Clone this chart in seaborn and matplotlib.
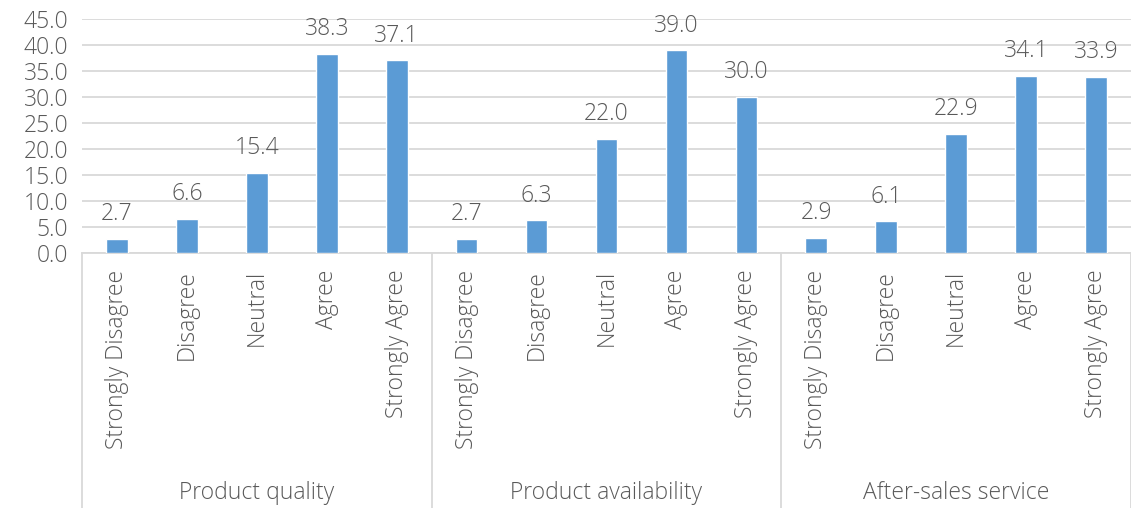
import matplotlib
matplotlib.use("Agg")
import matplotlib.pyplot as plt
import seaborn as sns
import pandas as pd

groups = ["Product quality", "Product availability", "After-sales service"]
responses = ["Strongly Disagree", "Disagree", "Neutral", "Agree", "Strongly Agree"]
quality = [2.7, 6.6, 15.4, 38.3, 37.1]
availability = [2.7, 6.3, 22.0, 39.0, 30.0]
after_sales = [2.9, 6.1, 22.9, 34.1, 33.9]
y_ticks = [0, 5, 10, 15, 20, 25, 30, 35, 40, 45]

rows = []
for g, vals in zip(groups, [quality, availability, after_sales]):
    for r, v in zip(responses, vals):
        rows.append({"group": g, "response": r, "key": f"{g}|{r}", "value": v})
df = pd.DataFrame(rows)

sns.set_theme(style="white")
plt.rcParams["font.family"] = ["Open Sans", "DejaVu Sans"]
text_color = "#595959"
grid_color = "#D9D9D9"
bar_color = "#5B9BD5"
fs = 16.5
fw = "light"

fig = plt.figure(figsize=(11.31, 5.08), dpi=100)
ax = fig.add_axes([82 / 1131, 1 - 253 / 508, 1 - 82 / 1131, (253 - 19) / 508])

sns.barplot(data=df, x="key", y="value", order=list(df["key"]), color=bar_color,
            width=0.31, saturation=1, ax=ax, zorder=3)

ax.set_xlim(-0.5, len(df) - 0.5)
ax.set_ylim(0, 45)
ax.set_yticks(y_ticks)
ax.set_yticklabels([f"{t:.1f}" for t in y_ticks], fontsize=fs, color=text_color,
                   fontweight=fw)
ax.yaxis.grid(True, color=grid_color, linewidth=1.3, zorder=0)
ax.set_axisbelow(True)
ax.tick_params(axis="y", length=0, pad=10)
ax.tick_params(axis="x", length=0, pad=12)
ax.set_xticks(range(len(df)))
ax.set_xticklabels(df["response"], rotation=90, fontsize=fs, color=text_color,
                   fontweight=fw, va="top")
ax.set_xlabel("")
ax.set_ylabel("")
for side in ["left", "right", "top"]:
    ax.spines[side].set_visible(False)
ax.spines["bottom"].set_color(grid_color)
ax.spines["bottom"].set_linewidth(1.3)

# value labels above bars
for patch, v in zip(ax.patches, df["value"]):
    ax.annotate(f"{v:.1f}", (patch.get_x() + patch.get_width() / 2, patch.get_height()),
                xytext=(0, 9), textcoords="offset points", ha="center", va="bottom",
                fontsize=fs, color=text_color, fontweight=fw)

# group separators and group labels below the category labels
trans = ax.get_xaxis_transform()
n = len(responses)
for i in range(len(groups) + 1):
    xpos = i * n - 0.5
    ax.plot([xpos, xpos], [0, -1.2], transform=trans, color=grid_color,
            linewidth=1.3, clip_on=False)
for i, g in enumerate(groups):
    ax.text(i * n + (n - 1) / 2, -1.026, g, transform=trans, ha="center", va="center",
            fontsize=fs, color=text_color, fontweight=fw)

fig.savefig("out.png", dpi=100)
